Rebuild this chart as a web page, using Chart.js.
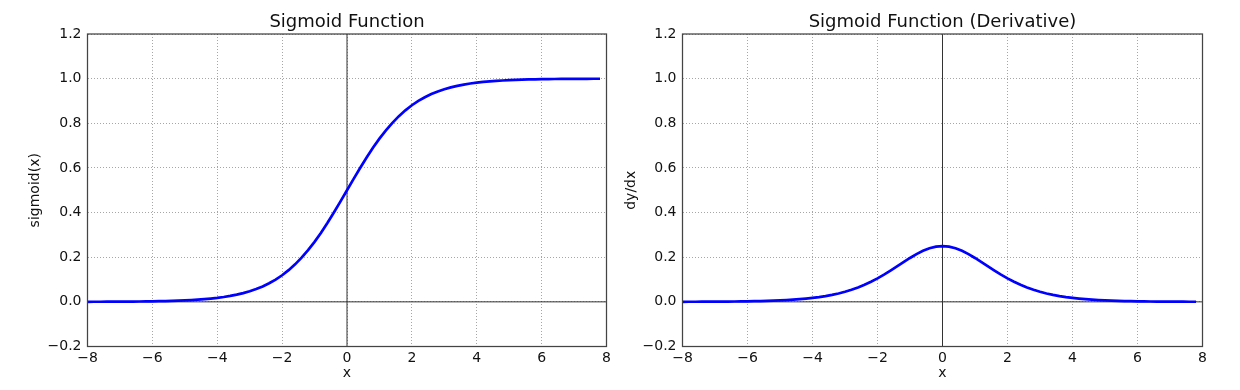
<!DOCTYPE html>
<html lang="en">
<head>
    <meta charset="UTF-8">
    <title>Sigmoid</title>
    <script src="https://cdn.jsdelivr.net/npm/chart.js"></script>
    <style>
        body { margin: 0; background: #fff; }
        .wrap { position: relative; width: 1240px; height: 390px; }
        canvas { position: absolute; top: 0; }
        #left { left: 0; }
        #right { left: 620px; }
    </style>
</head>
<body>
    <div class="wrap">
        <canvas id="left" width="620" height="390"></canvas>
        <canvas id="right" width="620" height="390"></canvas>
    </div>
    <script>
        const xs = [-8.0,-7.8,-7.6,-7.4,-7.2,-7.0,-6.8,-6.6,-6.4,-6.2,
                    -6.0,-5.8,-5.6,-5.4,-5.2,-5.0,-4.8,-4.6,-4.4,-4.2,
                    -4.0,-3.8,-3.6,-3.4,-3.2,-3.0,-2.8,-2.6,-2.4,-2.2,
                    -2.0,-1.8,-1.6,-1.4,-1.2,-1.0,-0.8,-0.6,-0.4,-0.2,
                    0.0,0.2,0.4,0.6,0.8,1.0,1.2,1.4,1.6,1.8,
                    2.0,2.2,2.4,2.6,2.8,3.0,3.2,3.4,3.6,3.8,
                    4.0,4.2,4.4,4.6,4.8,5.0,5.2,5.4,5.6,5.8,
                    6.0,6.2,6.4,6.6,6.8,7.0,7.2,7.4,7.6,7.8];

        const sigmoidY = [0.0003,0.0004,0.0005,0.0006,0.0007,0.0009,0.0011,0.0014,0.0017,0.0020,
                          0.0025,0.0030,0.0037,0.0045,0.0055,0.0067,0.0082,0.0100,0.0121,0.0148,
                          0.0180,0.0219,0.0266,0.0323,0.0392,0.0474,0.0573,0.0691,0.0832,0.0998,
                          0.1192,0.1419,0.1680,0.1978,0.2315,0.2689,0.3100,0.3543,0.4013,0.4502,
                          0.5000,0.5498,0.5987,0.6457,0.6900,0.7311,0.7685,0.8022,0.8320,0.8581,
                          0.8808,0.9002,0.9168,0.9309,0.9427,0.9526,0.9608,0.9677,0.9734,0.9781,
                          0.9820,0.9852,0.9879,0.9900,0.9918,0.9933,0.9945,0.9955,0.9963,0.9970,
                          0.9975,0.9980,0.9983,0.9986,0.9989,0.9991,0.9993,0.9994,0.9995,0.9996];

        const derivY = [0.0003,0.0004,0.0005,0.0006,0.0007,0.0009,0.0011,0.0014,0.0017,0.0020,
                        0.0025,0.0030,0.0037,0.0045,0.0055,0.0066,0.0081,0.0099,0.0120,0.0146,
                        0.0177,0.0214,0.0259,0.0313,0.0376,0.0452,0.0540,0.0644,0.0763,0.0898,
                        0.1050,0.1217,0.1398,0.1587,0.1779,0.1966,0.2139,0.2288,0.2403,0.2475,
                        0.2500,0.2475,0.2403,0.2288,0.2139,0.1966,0.1779,0.1587,0.1398,0.1217,
                        0.1050,0.0898,0.0763,0.0644,0.0540,0.0452,0.0376,0.0313,0.0259,0.0214,
                        0.0177,0.0146,0.0120,0.0099,0.0081,0.0066,0.0055,0.0045,0.0037,0.0030,
                        0.0025,0.0020,0.0017,0.0014,0.0011,0.0009,0.0007,0.0006,0.0005,0.0004];

        const xTicks = [-8, -6, -4, -2, 0, 2, 4, 6, 8];
        const yTicks = [-0.2, 0.0, 0.2, 0.4, 0.6, 0.8, 1.0, 1.2];

        const FONT = "'DejaVu Sans', sans-serif";

        function fmt(v, digits) {
            return v.toFixed(digits).replace('-', '\u2212');
        }

        // zero lines under the curve, box frame on top
        const framePlugin = {
            id: 'frame',
            beforeDatasetsDraw(chart) {
                const { ctx, chartArea: a, scales } = chart;
                const x0 = scales.x.getPixelForValue(0);
                const y0 = scales.y.getPixelForValue(0);
                ctx.save();
                ctx.strokeStyle = '#333';
                ctx.lineWidth = 1;
                ctx.beginPath();
                ctx.moveTo(a.left, y0); ctx.lineTo(a.right, y0);
                ctx.moveTo(x0, a.top); ctx.lineTo(x0, a.bottom);
                ctx.stroke();
                ctx.restore();
            },
            afterDraw(chart) {
                const { ctx, chartArea: a } = chart;
                ctx.save();
                ctx.strokeStyle = '#444';
                ctx.lineWidth = 1.25;
                ctx.strokeRect(a.left, a.top, a.right - a.left, a.bottom - a.top);
                ctx.restore();
            }
        };

        function makeChart(id, title, yLabel, values, yWidth, padRight, yTitlePad) {
            const points = xs.map((x, i) => ({ x: x, y: values[i] }));
            new Chart(document.getElementById(id), {
                type: 'line',
                data: {
                    datasets: [{
                        data: points,
                        borderColor: '#0000ff',
                        borderWidth: 2.7,
                        pointRadius: 0,
                        tension: 0,
                        fill: false
                    }]
                },
                options: {
                    responsive: false,
                    animation: false,
                    devicePixelRatio: 1,
                    layout: { padding: { left: 0, right: padRight, top: 0, bottom: 0 } },
                    plugins: {
                        legend: { display: false },
                        tooltip: { enabled: false },
                        title: {
                            display: true,
                            text: title,
                            fullSize: false,
                            color: '#111',
                            font: { family: FONT, size: 18, weight: 'normal' },
                            padding: { top: 12, bottom: 0.4 }
                        }
                    },
                    scales: {
                        x: {
                            type: 'linear',
                            min: -8, max: 8,
                            afterBuildTicks: s => { s.ticks = xTicks.map(v => ({ value: v })); },
                            afterFit: s => { s.height = 43.5; },
                            ticks: {
                                color: '#111',
                                font: { family: FONT, size: 14 },
                                padding: 3,
                                maxRotation: 0,
                                callback: v => fmt(v, 0)
                            },
                            grid: { color: 'rgba(0,0,0,0.35)', lineWidth: 1, drawTicks: false },
                            border: { display: false, dash: [1, 2] },
                            title: {
                                display: true, text: 'x', color: '#111',
                                font: { family: FONT, size: 14 },
                                padding: { top: 0, bottom: 8 }
                            }
                        },
                        y: {
                            min: -0.2, max: 1.2,
                            afterBuildTicks: s => { s.ticks = yTicks.map(v => ({ value: v })); },
                            afterFit: s => { s.width = yWidth; },
                            ticks: {
                                color: '#111',
                                font: { family: FONT, size: 14 },
                                padding: 6,
                                callback: v => fmt(v, 1)
                            },
                            grid: { color: 'rgba(0,0,0,0.35)', lineWidth: 1, drawTicks: false },
                            border: { display: false, dash: [1, 2] },
                            title: {
                                display: true, text: yLabel, color: '#111',
                                font: { family: FONT, size: 14 },
                                padding: { top: yTitlePad, bottom: 0 }
                            }
                        }
                    }
                },
                plugins: [framePlugin]
            });
        }

        makeChart('left', 'Sigmoid Function', 'sigmoid(x)', sigmoidY, 87.5, 13.5, 27);
        makeChart('right', 'Sigmoid Function (Derivative)', 'dy/dx', derivY, 62.5, 37.5, 2.6);
    </script>
</body>
</html>
